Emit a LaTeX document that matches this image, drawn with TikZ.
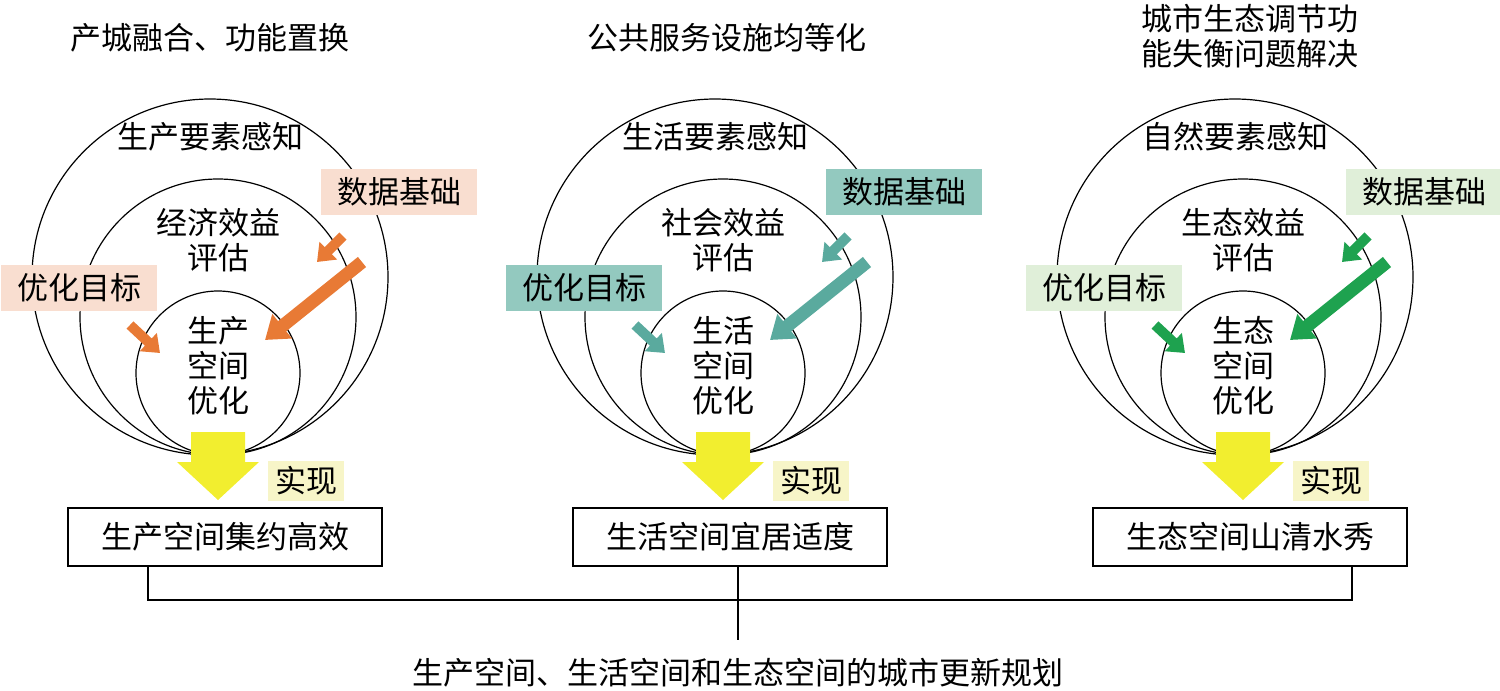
\documentclass[tikz,border=0pt]{standalone}
\usepackage{fontspec}
\setmainfont{Noto Sans CJK SC}
\usetikzlibrary{arrows.meta}
\definecolor{pA}{HTML}{F9DED0}\definecolor{aA}{HTML}{E87A35}
\definecolor{pB}{HTML}{93C9BF}\definecolor{aB}{HTML}{5AAA9E}
\definecolor{pC}{HTML}{E0EFD9}\definecolor{aC}{HTML}{1EA24F}
\definecolor{yel}{HTML}{F2EE2F}\definecolor{ybox}{HTML}{F7F5C8}
\tikzset{
 txt/.style={font=\fontsize{31}{35}\selectfont,align=center,inner sep=0},
 tag/.style={txt,minimum width=156pt,minimum height=46pt},
 res/.style={txt,draw,line width=1.2pt,minimum width=314pt,minimum height=58pt},
 circ/.style={line width=1.2pt},
 big/.style={line width=13pt,-{Triangle[width=30pt,length=22pt]}},
 small/.style={line width=10pt,-{Triangle[width=24pt,length=16pt]}},
}
\begin{document}
\begin{tikzpicture}[x=1pt,y=-1pt]
\useasboundingbox (0,0) rectangle (1500,691);
\newcommand{\panel}[8]{%
 \begin{scope}[xshift=#1]
 \draw[circ] (210,277) circle (178);
 \draw[circ] (218,317) circle (138);
 \draw[circ] (218,373) circle (82);
 \node[txt] (o#2) at (210,137) {#3};
 \node[txt] (m#2) at (218,240) {#4\\评估};
 \node[txt] (i#2) at (218,366) {#5\\空间\\优化};
 \node[tag,fill=p#2] (d#2) at (399,192) {数据基础};
 \node[tag,fill=p#2] (g#2) at (79,288) {优化目标};
 \coordinate (b1#2) at (362,262); \coordinate (b2#2) at (265,340);
 \coordinate (s1#2) at (343,236); \coordinate (s2#2) at (317,262);
 \coordinate (t1#2) at (130,325); \coordinate (t2#2) at (160,353);
 \draw[big,draw=a#2,fill=a#2] (b1#2) -- (b2#2);
 \draw[small,draw=a#2,fill=a#2] (s1#2) -- (s2#2);
 \draw[small,draw=a#2,fill=a#2] (t1#2) -- (t2#2);
 \fill[yel] (191,432) -- (245,432) -- (245,462) -- (259,462) -- (218,500) -- (177,462) -- (191,462) -- cycle;
 \node[txt,fill=ybox,minimum width=76pt,minimum height=40pt] (r#2) at (306,481) {实现};
 \node[res] (box#2) at (225,537) {#6};
 \node[txt] (t#2) at (#7) {#8};
 \end{scope}}
\panel{0}{A}{生产要素感知}{经济效益}{生产}{生产空间集约高效}{210,38}{产城融合、功能置换}
\panel{505}{B}{生活要素感知}{社会效益}{生活}{生活空间宜居适度}{222,38}{公共服务设施均等化}
\panel{1025}{C}{自然要素感知}{生态效益}{生态}{生态空间山清水秀}{225,36}{城市生态调节功\\能失衡问题解决}
\coordinate (L) at (148,600); \coordinate (R) at (1352,600); \coordinate (M) at (738,600);
\draw[line width=1.2pt] (boxA.south -| L) -- (L) -- (R) -- (boxC.south -| R);
\draw[line width=1.2pt] (boxB.south -| M) -- (M) -- (738,640);
\node[txt] (fin) at (738,673) {生产空间、生活空间和生态空间的城市更新规划};
\end{tikzpicture}
\end{document}
